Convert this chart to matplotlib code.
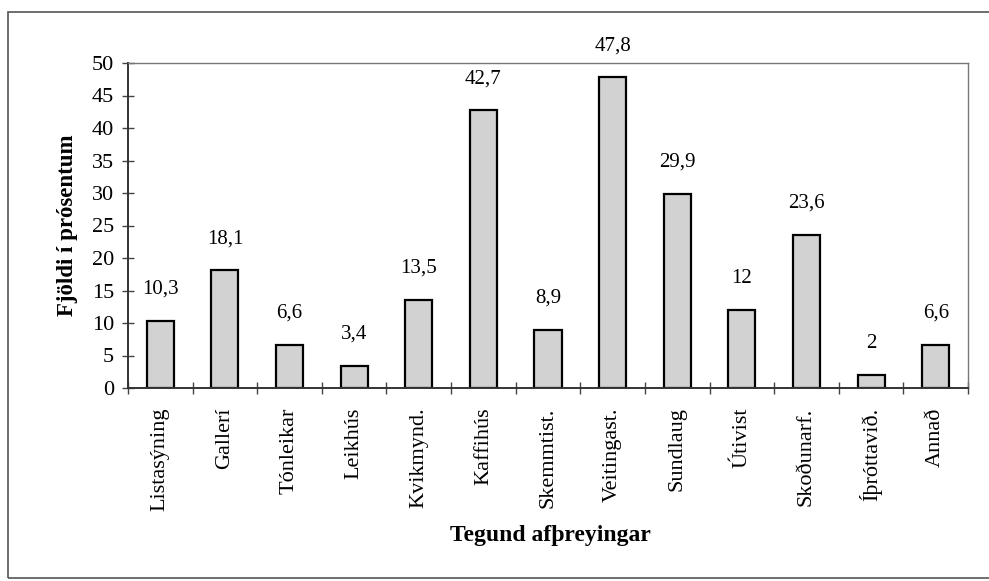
import matplotlib
matplotlib.use("Agg")
import matplotlib.pyplot as plt
from matplotlib.patches import Rectangle
import numpy as np

categories = ["Listasýning", "Gallerí", "Tónleikar", "Leikhús", "Kvikmynd.", "Kaffihús",
              "Skemmtist.", "Veitingast.", "Sundlaug", "Útivist", "Skoðunarf.", "Íþróttavið.", "Annað"]
values = [10.3, 18.1, 6.6, 3.4, 13.5, 42.7, 8.9, 47.8, 29.9, 12, 23.6, 2, 6.6]
value_labels = ["10,3", "18,1", "6,6", "3,4", "13,5", "42,7", "8,9", "47,8", "29,9", "12", "23,6", "2", "6,6"]
yticks = [0, 5, 10, 15, 20, 25, 30, 35, 40, 45, 50]

plt.rcParams['font.family'] = ['Liberation Serif', 'DejaVu Serif']

fig = plt.figure(figsize=(9.89, 5.81), dpi=100)
W, H = 989, 581
ax = fig.add_axes([128 / W, 1 - 388 / H, (968 - 128) / W, (388 - 63) / H])

x = np.arange(len(categories)) + 0.5
bars = ax.bar(x, values, width=0.42, color="#d2d2d2", edgecolor="black", linewidth=1.6)

for xi, v, lab in zip(x, values, value_labels):
    ax.annotate(lab, (xi, v), xytext=(0, 16), textcoords="offset points",
                ha="center", va="bottom", fontsize=15, annotation_clip=False)

ax.set_xlim(0, len(categories))
ax.set_ylim(0, 50)
ax.set_yticks(yticks)
ax.set_yticklabels([str(t) for t in yticks], fontsize=16)
ax.set_xticks(x)
ax.set_xticklabels(categories, rotation=90, fontsize=16)
ax.set_xticks(np.arange(len(categories) + 1), minor=True)
ax.tick_params(axis="x", which="major", length=0, pad=14)
ax.tick_params(axis="x", which="minor", direction="inout", length=8, width=1, color="#444444")
ax.tick_params(axis="y", direction="inout", length=8, width=1, color="#444444", pad=6)

for side in ["top", "right"]:
    ax.spines[side].set_color("#777777")
    ax.spines[side].set_linewidth(1.0)
for side in ["left", "bottom"]:
    ax.spines[side].set_color("#333333")
    ax.spines[side].set_linewidth(1.4)

ax.set_ylabel("Fjöldi í prósentum", fontsize=16.5, fontweight="bold", labelpad=10)
fig.text(550 / W, 1 - 535 / H, "Tegund afþreyingar", fontsize=17, fontweight="bold",
         ha="center", va="center")

frame = Rectangle((8 / W, 1 - 578 / H), (1100 - 8) / W, (578 - 12) / H,
                  transform=fig.transFigure, fill=False, edgecolor="#555555", linewidth=1.2,
                  clip_on=False)
fig.patches.append(frame)

fig.savefig("out.png", dpi=100)
